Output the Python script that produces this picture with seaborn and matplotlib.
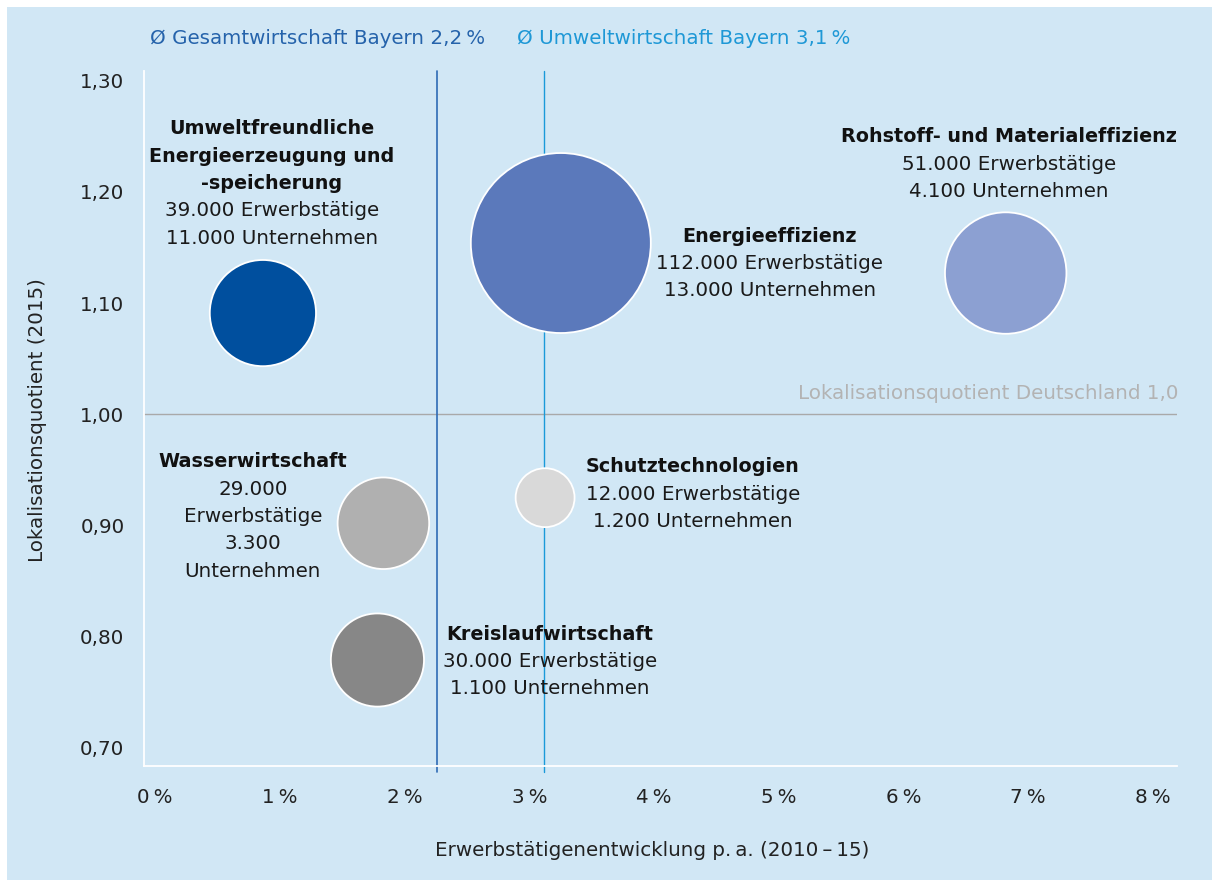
import matplotlib
matplotlib.use("Agg")
import matplotlib.pyplot as plt
from matplotlib.patches import Rectangle
import numpy as np
import pandas as pd
import seaborn as sns

# --- data ---
branchen = ["Umweltfreundliche Energieerzeugung und -speicherung", "Energieeffizienz",
            "Rohstoff- und Materialeffizienz", "Wasserwirtschaft",
            "Schutztechnologien", "Kreislaufwirtschaft"]
entwicklung = [0.865, 3.253, 6.819, 1.831, 3.127, 1.783]      # % p.a. 2010-15
lq = [1.091, 1.154, 1.127, 0.902, 0.925, 0.779]              # Lokalisationsquotient 2015
erwerbstaetige = [39000, 112000, 51000, 29000, 12000, 30000]
unternehmen = ["11.000", "13.000", "4.100", "3.300", "1.200", "1.100"]
erwerb_txt = ["39.000", "112.000", "51.000", "29.000", "12.000", "30.000"]
# reference lines as drawn (labelled 2,2 % and 3,1 %)
avg_gesamt = 2.26
avg_umwelt = 3.12
xticks = [0, 1, 2, 3, 4, 5, 6, 7, 8]
yticks = [0.70, 0.80, 0.90, 1.00, 1.10, 1.20, 1.30]

# --- styling / layout ---
BG = "#d1e7f5"
colors = ["#004f9e", "#5b79bb", "#8ca0d2", "#b0b0b0", "#d9d9d9", "#878787"]
FS = 14.3
FS_BOLD = 13.8
LINE = 27.3 / 1112  # line step in data units

# label blocks: (x, y of first line, bold lines, regular lines)
labels = [
    (0.9375, 1.2566, ["Umweltfreundliche", "Energieerzeugung und", "-speicherung"],
     [f"{erwerb_txt[0]} Erwerbstätige", f"{unternehmen[0]} Unternehmen"]),
    (4.928, 1.1603, ["Energieeffizienz"],
     [f"{erwerb_txt[1]} Erwerbstätige", f"{unternehmen[1]} Unternehmen"]),
    (6.843, 1.2494, ["Rohstoff- und Materialeffizienz"],
     [f"{erwerb_txt[2]} Erwerbstätige", f"{unternehmen[2]} Unternehmen"]),
    (0.785, 0.9571, ["Wasserwirtschaft"],
     [erwerb_txt[3], "Erwerbstätige", unternehmen[3], "Unternehmen"]),
    (4.311, 0.9526, ["Schutztechnologien"],
     [f"{erwerb_txt[4]} Erwerbstätige", f"{unternehmen[4]} Unternehmen"]),
    (3.165, 0.8024, ["Kreislaufwirtschaft"],
     [f"{erwerb_txt[5]} Erwerbstätige", f"{unternehmen[5]} Unternehmen"]),
]

sns.set_theme(style="white")
plt.rcParams["font.family"] = ["DejaVu Sans"]

df = pd.DataFrame({"branche": branchen, "x": entwicklung, "y": lq, "erw": erwerbstaetige})

fig = plt.figure(figsize=(12.12, 8.8), dpi=100, facecolor="white")
fig.patches.append(Rectangle((7 / 1212, -0.5), 2, 0.5 + 873 / 880, transform=fig.transFigure,
                             facecolor=BG, edgecolor="none", zorder=-10))
ax = fig.add_axes([144 / 1212, 1 - 766 / 880, 1032.5 / 1212, 695 / 880])
ax.set_facecolor(BG)

ax.axhline(1.0, color="#a9a9a9", lw=1.0, zorder=1)
ax.axvline(avg_gesamt, ymin=-0.009, ymax=1, color="#2e6bb5", lw=1.2, clip_on=False, zorder=1)
ax.axvline(avg_umwelt, ymin=-0.009, ymax=1, color="#1a9ad9", lw=1.0, clip_on=False, zorder=1)

# bubble area proportional to employment: 112.000 -> radius 90 px
smax = (2 * 90 * 0.72) ** 2
sns.scatterplot(data=df, x="x", y="y", hue="branche", palette=dict(zip(branchen, colors)),
                size="erw", sizes=(0, smax), size_norm=(0, 112000), legend=False,
                edgecolor="white", linewidth=1.3, alpha=1, ax=ax, zorder=3)

for x, y, bold, regular in labels:
    k = 0
    for t in bold:
        ax.text(x, y - k * LINE, t, ha="center", va="center", fontsize=FS_BOLD,
                fontweight="bold", color="#111111", zorder=4)
        k += 1
    for t in regular:
        ax.text(x, y - k * LINE, t, ha="center", va="center", fontsize=FS,
                color="#1a1a1a", zorder=4)
        k += 1

ax.text(8.205, 1.019, "Lokalisationsquotient Deutschland 1,0", ha="right", va="center",
        fontsize=FS, color="#b3b3b3")

ax.set_xlim(-0.088, 8.188)
ax.set_ylim(0.6837, 1.3087)
ax.set_xticks(xticks)
ax.set_xticklabels([f"{v}\u2009%" for v in xticks])
ax.set_yticks(yticks)
ax.set_yticklabels([f"{v:.2f}".replace(".", ",") for v in yticks])
ax.tick_params(axis="both", length=0, labelsize=FS, labelcolor="#222222")
ax.tick_params(axis="y", pad=14)
ax.tick_params(axis="x", pad=16)
ax.set_xlabel("")
ax.set_ylabel("")

for side in ["top", "right"]:
    ax.spines[side].set_visible(False)
for side in ["left", "bottom"]:
    ax.spines[side].set_color("white")
    ax.spines[side].set_linewidth(1.3)

fig.text(38 / 1212, 1 - 420 / 880, "Lokalisationsquotient (2015)", rotation=90,
         ha="center", va="center", fontsize=FS, color="#222222")
fig.text(652 / 1212, 1 - 850 / 880, "Erwerbstätigenentwicklung p.\u2009a. (2010\u2009\u2013\u200915)",
         ha="center", va="center", fontsize=FS, color="#222222")
fig.text(150 / 1212, 1 - 39 / 880, "Ø Gesamtwirtschaft Bayern 2,2\u2009%", ha="left", va="center",
         fontsize=FS, color="#2563ab")
fig.text(517 / 1212, 1 - 39 / 880, "Ø Umweltwirtschaft Bayern 3,1\u2009%", ha="left", va="center",
         fontsize=FS, color="#1e98d6")

fig.savefig("out.png", dpi=100, facecolor="white")
